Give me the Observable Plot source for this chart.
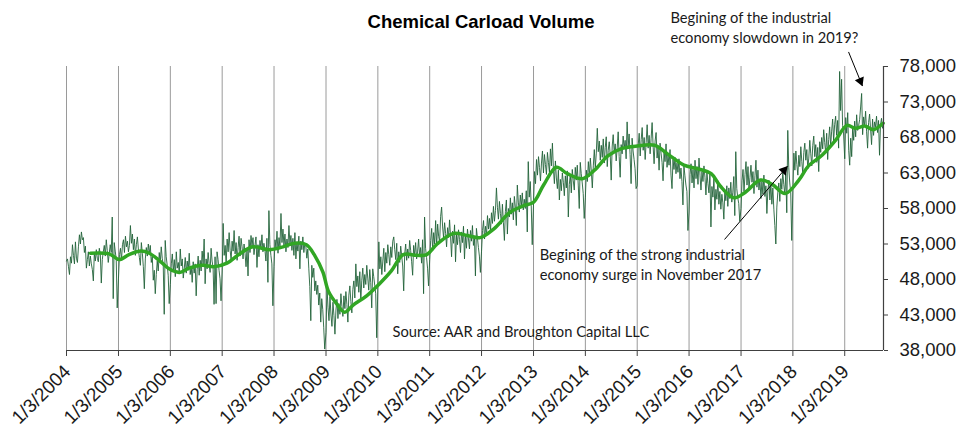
<!DOCTYPE html>
<html><head><meta charset="utf-8">
<script src="https://cdn.jsdelivr.net/npm/d3@7"></script>
<script src="https://cdn.jsdelivr.net/npm/@observablehq/plot@0.6"></script>
<style>body{margin:0;background:#fff}#chart{width:956px;height:430px}</style>
</head><body><div id="chart"></div>
<script>
// Weekly chemical carloads, thousands of cars (week k of a year starts at Jan 3 + 7k)
const years = [2004,2005,2006,2007,2008,2009,2010,2011,2012,2013,2014,2015,2016,2017,2018,2019];
const weekly2004 = [50.6,50.9,49.8,48.7,51.2,50.3,52.9,51.4,50.2,53.3,51.0,50.4,52.6,54.3,53.0,54.7,53.6,53.9,51.8,52.7,49.6,50.8,51.9,49.9,51.3,50.2,49.4,47.8,51.7,50.6,52.2,51.0,50.5,52.4,51.6,47.5,50.8,51.9,52.8,51.3,53.6,52.1,50.4,51.7,52.9,51.8,56.8,45.3,53.2,52.0,50.9,44.0];
const weekly2005 = [48.2,51.5,52.4,50.7,52.9,53.6,51.8,54.1,52.6,53.4,51.9,52.8,55.6,53.1,54.4,52.2,53.7,51.4,52.9,54.0,52.3,51.1,50.0,53.2,51.7,49.8,46.7,50.9,52.5,51.3,53.0,51.6,52.8,50.4,51.2,47.9,49.3,46.0,48.7,50.6,49.2,51.8,50.3,52.6,51.0,50.1,43.1,53.5,51.2,50.0,48.6,44.6];
const weekly2006 = [47.3,50.2,51.6,49.1,50.8,48.4,51.9,49.6,50.4,48.8,52.3,49.9,50.9,48.2,49.5,51.1,48.9,50.6,49.3,51.7,48.7,49.9,47.6,50.5,48.9,50.2,45.7,49.4,51.3,48.6,50.7,49.2,52.0,50.1,53.7,47.4,50.9,49.5,51.8,50.3,49.0,52.4,50.6,49.7,44.5,51.2,44.6,51.9,50.8,49.3,48.1,45.0];
const weekly2007 = [49.2,55.9,51.4,52.8,50.3,53.7,51.9,54.6,52.1,50.8,53.4,52.0,54.9,51.6,53.2,50.7,52.5,54.1,51.3,53.8,52.6,50.9,53.0,51.7,49.8,52.3,48.5,53.6,51.8,54.2,52.7,53.9,51.5,52.8,54.0,49.7,52.9,51.2,53.5,52.4,54.3,51.9,53.1,52.2,50.6,53.8,47.6,57.7,52.9,51.4,50.2,44.3];
const weekly2008 = [49.8,53.6,52.4,54.8,51.7,53.9,52.6,57.3,53.2,55.1,52.8,54.4,51.9,53.7,52.5,55.6,53.0,54.2,52.1,53.8,51.4,54.6,50.9,53.3,52.0,54.1,49.5,53.4,52.2,54.0,51.8,53.1,52.7,51.0,52.3,49.5,47.0,42.2,50.0,48.3,49.6,46.4,47.8,45.9,47.2,44.4,46.1,42.0,45.3,43.8,41.2,38.2];
const weekly2009 = [40.5,46.9,44.1,42.2,45.6,43.0,41.4,44.8,42.9,40.3,43.7,45.2,42.5,44.6,43.1,46.0,44.2,42.8,45.7,43.9,46.3,44.5,42.0,45.8,47.1,44.9,43.3,46.6,47.8,45.4,50.2,47.0,48.5,46.2,49.1,45.0,47.9,49.6,46.8,48.7,47.3,50.0,48.2,46.5,49.4,47.6,44.0,49.5,48.4,47.2,46.0,39.8];
const weekly2010 = [46.8,53.3,49.5,51.2,48.7,50.6,52.4,49.1,51.8,50.3,52.9,51.5,50.0,52.6,51.1,53.4,54.0,52.2,50.8,53.1,48.8,51.9,50.4,52.7,51.3,49.9,46.4,51.6,53.0,50.7,52.3,51.0,53.5,52.1,50.5,48.6,52.8,51.4,53.2,50.9,52.0,53.7,51.2,52.5,50.3,53.6,46.0,56.8,52.4,51.1,49.6,47.1];
const weekly2011 = [50.8,53.5,55.2,52.1,54.6,53.0,56.3,52.7,55.8,54.1,53.3,56.9,58.2,55.4,53.8,56.0,54.5,52.6,55.3,53.9,56.4,54.0,51.2,54.8,53.1,55.7,50.5,54.3,52.9,55.0,53.6,51.8,54.7,53.2,55.5,50.9,54.2,52.4,55.1,53.7,52.3,54.9,53.4,55.6,52.8,54.0,48.5,55.2,53.9,52.5,51.3,49.0];
const weekly2012 = [52.0,54.9,56.3,53.7,55.5,54.2,57.0,55.1,56.6,54.8,57.4,55.9,58.3,56.2,57.7,60.9,58.1,56.5,59.0,57.3,55.8,58.6,56.0,53.5,57.6,59.2,54.4,58.0,56.8,59.5,57.2,58.8,56.4,59.7,58.2,55.6,61.3,58.9,57.5,59.9,58.3,60.2,57.8,59.3,58.0,60.5,54.7,64.6,59.6,61.8,58.4,52.9];
const weekly2013 = [58.7,63.2,61.5,64.9,62.7,65.3,63.8,61.9,64.4,66.1,63.0,65.6,64.2,62.8,65.9,64.5,63.1,66.4,64.0,67.2,63.6,61.5,64.7,62.3,60.8,63.4,59.2,62.1,60.5,63.0,61.7,59.8,62.6,60.9,63.3,56.8,61.4,62.8,60.2,63.5,61.9,60.6,63.8,62.0,64.1,61.3,58.0,64.5,62.9,61.6,60.1,56.6];
const weekly2014 = [59.5,63.4,61.8,64.6,62.5,65.1,63.2,60.9,64.0,66.3,63.7,65.8,69.3,66.0,67.5,64.8,66.9,65.2,67.8,64.4,66.6,68.1,63.9,66.2,67.4,65.5,62.0,66.8,68.4,65.9,67.1,64.7,66.5,68.8,65.3,62.4,67.0,65.7,68.2,66.4,67.6,65.0,70.2,66.7,68.5,65.6,61.5,67.9,66.1,64.9,63.6,60.8];
const weekly2015 = [61.2,66.9,68.6,65.4,67.7,69.4,66.2,68.0,64.9,67.3,69.8,66.5,68.3,65.7,67.9,70.1,66.8,64.3,67.5,68.7,65.1,66.6,63.4,67.2,65.8,64.5,61.9,66.0,64.6,67.1,63.8,65.5,64.1,66.3,62.7,60.8,64.9,63.5,65.2,62.9,64.4,63.1,65.0,62.2,63.7,61.8,58.5,64.0,62.6,61.3,60.4,54.9];
const weekly2016 = [57.5,62.8,64.3,61.6,63.5,60.9,64.8,62.2,63.9,61.4,65.1,62.7,60.6,63.2,61.8,64.0,62.4,59.9,63.0,61.5,60.2,62.9,55.4,61.1,59.6,62.3,57.8,60.7,59.3,61.9,58.6,60.4,57.9,60.0,58.8,56.5,60.6,59.1,61.2,58.3,60.9,59.4,61.7,58.9,60.3,62.5,57.0,66.0,60.8,59.5,58.7,56.2];
const weekly2017 = [58.0,61.9,63.5,60.4,62.8,64.6,61.3,63.9,60.8,62.4,64.1,61.7,63.2,60.1,62.6,64.8,61.0,63.4,60.6,62.1,59.4,61.8,60.0,62.7,59.7,61.2,57.3,60.5,62.0,59.2,61.5,58.6,60.9,57.9,55.6,53.0,58.2,60.3,61.6,59.0,62.2,60.7,63.1,61.4,60.0,62.9,57.4,69.0,63.8,61.6,60.2,53.5];
const weekly2018 = [60.5,65.8,63.4,66.1,64.2,62.7,65.5,63.9,66.7,64.6,62.9,65.9,67.2,64.8,66.3,63.6,65.1,67.6,65.7,64.0,66.9,68.2,65.3,67.0,64.5,66.6,63.2,67.4,65.9,68.0,66.4,69.1,67.3,65.8,68.6,64.9,67.7,69.5,66.8,68.9,70.6,67.5,69.8,71.0,68.3,70.4,66.5,77.3,71.8,76.2,69.7,68.5];
const weekly2019 = [65.0,70.8,68.6,71.5,66.2,64.1,67.9,65.3,69.4,67.6,70.3,68.1,71.2,69.0,69.7,70.5,72.3,74.2,68.4,70.9,69.6,71.7,68.8,66.5,70.1,71.3,69.2,67.0,70.6,68.3,70.2,69.5,71.0,68.7,70.4,65.5,69.8,70.7,69.3,70.1];
const weeklyByYear = [weekly2004,weekly2005,weekly2006,weekly2007,weekly2008,weekly2009,weekly2010,weekly2011,weekly2012,weekly2013,weekly2014,weekly2015,weekly2016,weekly2017,weekly2018,weekly2019];

// Moving average, thousands
const maDates = ["2004-06-20","2004-10-30","2005-01-08","2005-03-18","2005-06-10","2005-08-08","2005-10-16","2005-12-25","2006-03-08","2006-05-15","2006-08-18","2006-11-06","2007-02-06","2007-05-05","2007-08-08","2007-12-01","2008-03-07","2008-05-26","2008-08-18","2008-10-15","2008-12-13","2009-01-19","2009-03-18","2009-05-15","2009-07-13","2009-10-16","2010-01-15","2010-04-08","2010-07-01","2010-10-04","2010-12-13","2011-02-24","2011-06-21","2011-09-24","2011-12-24","2012-03-28","2012-07-24","2012-10-27","2013-01-04","2013-03-15","2013-06-13","2013-08-29","2013-12-13","2014-03-08","2014-06-10","2014-09-09","2015-01-04","2015-05-05","2015-08-04","2015-11-28","2016-03-04","2016-06-07","2016-08-08","2016-11-14","2017-02-03","2017-05-20","2017-08-11","2017-11-10","2018-02-14","2018-04-23","2018-07-27","2018-10-30","2019-01-19","2019-03-18","2019-05-27","2019-07-24","2019-09-30"];
const maValues = [51.7,51.6,50.8,51.5,52.0,51.7,50.7,49.5,49.0,49.6,50.0,49.8,50.3,51.6,52.6,52.2,52.6,53.1,52.9,51.4,49.0,46.4,44.6,43.4,44.4,45.7,47.4,49.2,51.5,51.4,51.5,53.0,54.5,54.2,53.9,55.1,57.5,58.4,58.9,61.3,63.8,62.9,62.2,63.4,65.4,66.4,66.8,66.9,65.7,64.1,63.6,62.9,61.2,59.5,60.3,62.0,61.4,60.1,62.0,64.0,65.5,67.6,69.7,69.3,69.6,69.1,70.0];

const yTicks = [38,43,48,53,58,63,68,73,78];
const xTickYears = years;
const xDomain = ["2004-01-03","2019-10-03"];

const title = "Chemical Carload Volume";
const noteText = ["Begining of the industrial","economy slowdown in 2019?","Begining of the strong industrial","economy surge in November 2017","Source: AAR and Broughton Capital LLC"];
const noteDates = ["2015-08-25","2015-08-25","2013-02-15","2013-02-15","2010-04-17"];
const noteValues = [84.14,81.32,50.81,47.92,39.87];
const arrowFromDates = ["2019-01-30","2016-09-09"];
const arrowFromValues = [80.05,53.64];
const arrowToDates = ["2019-05-08","2017-11-26"];
const arrowToValues = [75.25,63.95];

const D = s => new Date(s + "T00:00:00Z");
const weeklyRows = weeklyByYear.flatMap((vals, i) => vals.map((v, k) => ({date: new Date(Date.UTC(years[i], 0, 3 + 7 * k)), value: v})));
const maRows = maDates.map((d, i) => ({date: D(d), value: maValues[i]}));
const xTicks = xTickYears.map(y => new Date(Date.UTC(y, 0, 3)));
const notes = noteText.map((t, i) => ({text: t, date: D(noteDates[i]), value: noteValues[i]}));
const arrows = arrowFromDates.map((d, i) => ({x1: D(d), y1: arrowFromValues[i], x2: D(arrowToDates[i]), y2: arrowToValues[i]}));

const fmtDate = d => `${d.getUTCMonth() + 1}/${d.getUTCDate()}/${d.getUTCFullYear()}`;

const chart = Plot.plot({
  width: 956, height: 430,
  marginLeft: 66, marginRight: 73, marginTop: 66, marginBottom: 80,
  style: {fontFamily: "'Liberation Sans', Arial, sans-serif", background: "#fff", overflow: "visible"},
  x: {type: "utc", domain: xDomain.map(D)},
  y: {domain: [38, 78]},
  marks: [
    Plot.ruleX(xTicks, {stroke: "#9a9a9a", strokeWidth: 1}),
    Plot.line(weeklyRows, {x: "date", y: "value", stroke: "#22633a", strokeWidth: 0.9}),
    Plot.line(maRows, {x: "date", y: "value", stroke: "#31a624", strokeWidth: 3.5, curve: "catmull-rom"}),
    Plot.ruleY([38], {stroke: "#404040", strokeWidth: 1.2}),
    Plot.ruleX([D(xDomain[1])], {stroke: "#404040", strokeWidth: 1.2}),
    Plot.axisX({ticks: xTicks, tickFormat: () => "", tickSize: 6, label: null, stroke: "#404040"}),
    Plot.axisX({ticks: xTicks, tickFormat: fmtDate, tickRotate: -45, tickSize: 6, tickPadding: 10, dx: 1, dy: 2, strokeOpacity: 0, fontSize: 19, label: null, fill: "#1a1a1a"}),
    Plot.axisY({anchor: "right", ticks: yTicks, tickFormat: d => d3.format(",")(d * 1000), tickSize: 4, tickPadding: 12, fontSize: 18.5, label: null, stroke: "#404040", fill: "#1a1a1a"}),
    Plot.text([title], {frameAnchor: "top", dx: 6, dy: -39, lineAnchor: "bottom", fontSize: 18.5, fontWeight: "bold", fill: "#000"}),
    Plot.text(notes, {x: "date", y: "value", text: "text", textAnchor: "start", lineAnchor: "bottom", fontFamily: "Lato, 'Open Sans', sans-serif", fontSize: 14.7, fill: "#1a1a1a"}),
    Plot.link(arrows, {x1: "x1", y1: "y1", x2: "x2", y2: "y2", stroke: "#000", strokeWidth: 1}),
    Plot.dot(arrows.slice(0, 1), {x: "x2", y: "y2", symbol: "triangle", r: 3.6, fill: "#000", rotate: 157.6, dx: -2.1, dy: -5.0}),
    Plot.dot(arrows.slice(1, 2), {x: "x2", y: "y2", symbol: "triangle", r: 3.6, fill: "#000", rotate: 40.8, dx: -3.5, dy: 4.1})
  ]
});
document.getElementById("chart").appendChild(chart);
</script>
</body></html>
